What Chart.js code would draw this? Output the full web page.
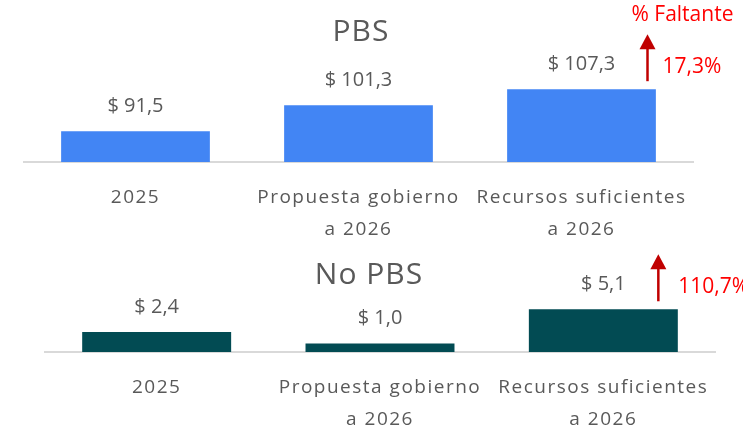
<!DOCTYPE html>
<html>
<head>
<meta charset="utf-8">
<style>
  body { margin: 0; background: #fff; }
  canvas { position: absolute; left: 0; }
  #pbs { top: 0; }
  #nopbs { top: 240px; }
</style>
</head>
<body>
<canvas id="pbs" width="743" height="243"></canvas>
<canvas id="nopbs" width="743" height="193"></canvas>
<script src="https://cdn.jsdelivr.net/npm/chart.js"></script>
<script>
    const categories = [['2025'], ['Propuesta gobierno', 'a 2026'], ['Recursos suficientes', 'a 2026']];
    const pbsValues = [91.5, 101.3, 107.3];
    const noPbsValues = [2.4, 1.0, 5.1];
    const pbsGap = '17,3%';
    const noPbsGap = '110,7%';

    const FONT = '"Open Sans", sans-serif';
    const GREY = '#595959';

    function money(v) {
        return '$ ' + v.toFixed(1).replace('.', ',');
    }

    // wider tracking for the axis labels
    const tracking = {
        id: 'tracking',
        beforeDraw(chart) {
            chart.ctx.letterSpacing = '1.5px';
        }
    };

    // titles, value labels above the bars and the red "missing" arrow
    const decorations = {
        id: 'decorations',
        afterDatasetsDraw(chart, args, opts) {
            const ctx = chart.ctx;
            const bars = chart.getDatasetMeta(0).data;
            const values = chart.data.datasets[0].data;
            ctx.save();
            ctx.textBaseline = 'middle';
            ctx.textAlign = 'center';
            ctx.fillStyle = GREY;
            ctx.letterSpacing = '0px';
            ctx.font = '20px ' + FONT;
            bars.forEach((bar, i) => {
                ctx.fillText(money(values[i]), bar.x, bar.y - 25);
            });

            ctx.letterSpacing = '1px';
            ctx.font = '30px ' + FONT;
            ctx.fillText(opts.title, opts.titleX, opts.titleY);

            // arrow next to the last bar
            const last = bars[bars.length - 1];
            const ax = last.x + opts.arrowDx;
            const base = last.y - 8;
            const tip = base - 47;
            ctx.strokeStyle = '#C00000';
            ctx.fillStyle = '#C00000';
            ctx.lineWidth = 2.5;
            ctx.beginPath();
            ctx.moveTo(ax, base);
            ctx.lineTo(ax, tip + 12);
            ctx.stroke();
            ctx.beginPath();
            ctx.moveTo(ax, tip);
            ctx.lineTo(ax - 8, tip + 15);
            ctx.lineTo(ax + 8, tip + 15);
            ctx.closePath();
            ctx.fill();

            ctx.fillStyle = '#FF0000';
            ctx.textAlign = 'left';
            ctx.letterSpacing = '0px';
            ctx.font = '21px ' + FONT;
            ctx.fillText(opts.gap, ax + opts.gapDx, (base + tip) / 2 + 9);
            if (opts.header) {
                ctx.fillText(opts.header, ax - 16, 15);
            }
            ctx.restore();
        }
    };

    function makeChart(id, values, color, yMin, yMax, padLeft, padRight, deco) {
        return new Chart(document.getElementById(id).getContext('2d'), {
            type: 'bar',
            data: {
                labels: categories,
                datasets: [{
                    data: values,
                    backgroundColor: color,
                    barPercentage: 0.667,
                    categoryPercentage: 1
                }]
            },
            options: {
                responsive: false,
                animation: false,
                layout: {padding: {top: 50, left: padLeft, right: padRight, bottom: 0}},
                plugins: {
                    legend: {display: false},
                    tooltip: {enabled: false},
                    decorations: deco
                },
                scales: {
                    x: {
                        grid: {display: false, drawTicks: false},
                        border: {display: true, color: '#D9D9D9', width: 2},
                        ticks: {
                            color: GREY,
                            padding: 19,
                            maxRotation: 0,
                            autoSkip: false,
                            font: {family: FONT, size: 19, lineHeight: 1.7}
                        },
                        // fixed room for the two-line labels
                        afterFit: scale => { scale.height = 81; }
                    },
                    y: {display: false, min: yMin, max: yMax}
                }
            },
            plugins: [tracking, decorations]
        });
    }

    makeChart('pbs', pbsValues, '#4285F4', 80, 122, 24, 50,
        {title: 'PBS', titleX: 361, titleY: 32, arrowDx: 66, gapDx: 15, gap: pbsGap, header: '% Faltante'});
    makeChart('nopbs', noPbsValues, '#024B53', 0, 7.4, 45, 28,
        {title: 'No PBS', titleX: 369, titleY: 35, arrowDx: 55, gapDx: 20, gap: noPbsGap});
</script>
</body>
</html>
